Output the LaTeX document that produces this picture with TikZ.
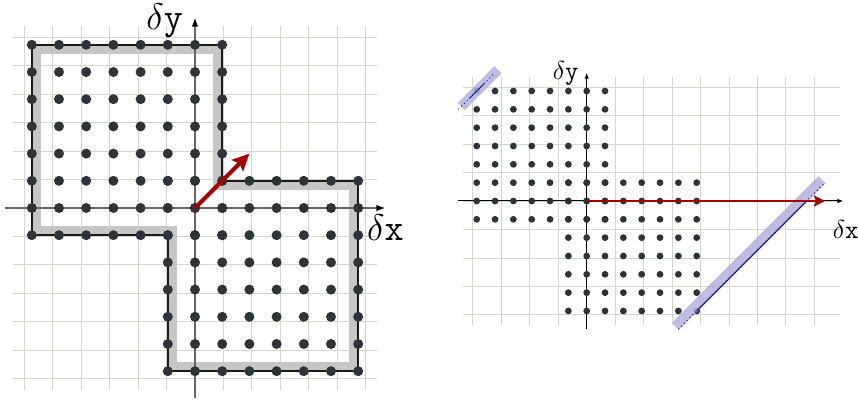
\RequirePackage{fix-cm}
\documentclass[tikz,border=0pt]{standalone}
\usetikzlibrary{arrows.meta}
\definecolor{dotc}{HTML}{2E3436}
\definecolor{gridc}{HTML}{D3D7CF}
\definecolor{redc}{HTML}{A40000}
\definecolor{bandgray}{RGB}{198,198,198}
\definecolor{bandc}{RGB}{178,178,220}
\definecolor{navyc}{RGB}{25,25,140}
\tikzset{
  biglab/.style={font=\fontsize{37}{38}\selectfont, inner sep=0pt},
  smalllab/.style={font=\fontsize{26}{27}\selectfont, inner sep=0pt},
  gridline/.style={gridc},
  dotfill/.style={fill=dotc},
}
\begin{document}
\begin{tikzpicture}[x=1pt,y=1pt]
\useasboundingbox (0,0) rectangle (858,401);
% ---------------- left diagram ----------------
\begin{scope}[shift={(195pt,193pt)}, x=27.2pt, y=27.2pt]
  \draw[gridline, line width=1pt] (-6.7,-6.7) grid (6.7,6.7);
  \draw[bandgray, line width=8pt, line join=miter]
    (-5.8,5.8) -- (0.8,5.8) -- (0.8,0.8) -- (5.8,0.8) -- (5.8,-5.8)
    -- (-0.8,-5.8) -- (-0.8,-0.8) -- (-5.8,-0.8) -- cycle;
  \coordinate (Lxa) at (-7,0); \coordinate (Lxb) at (7,0);
  \coordinate (Lya) at (0,-7); \coordinate (Lyb) at (0,7);
  \draw[black!60, line width=1.5pt, -{Latex[length=9pt,width=6.5pt,black]}] (Lxa) -- (Lxb);
  \draw[black!60, line width=1.5pt, -{Latex[length=9pt,width=6.5pt,black]}] (Lya) -- (Lyb);
  \draw[black!90, line width=2pt, line join=miter]
    (-6,6) -- (1,6) -- (1,1) -- (6,1) -- (6,-6) -- (-1,-6) -- (-1,-1) -- (-6,-1) -- cycle;
  \foreach \i in {-6,...,1} \foreach \j in {-1,...,6} \fill[dotfill] (\i,\j) circle[radius=5pt];
  \foreach \i in {-1,...,6} \foreach \j in {-6,...,1} \fill[dotfill] (\i,\j) circle[radius=5pt];
  \coordinate (Lo) at (0,0); \coordinate (Lr) at (2,2);
  \draw[redc, line width=4pt, -{Stealth[length=17pt,width=16pt,inset=3pt]}] (Lo) -- (Lr);
  \node[biglab, anchor=base east] (Lly) at (-0.44,6.58) {$\delta\mathtt{y}$};
  \node[biglab, anchor=north west] (Llx) at (6.32,-0.26) {$\delta\mathtt{x}$};
\end{scope}
% ---------------- right diagram ----------------
\begin{scope}[shift={(586.7pt,200pt)}, x=18.33pt, y=18.33pt]
  \draw[gridline, line width=0.8pt] (-6.75,-6.75) grid (13.8,6.75);
  \coordinate (Rxa) at (-7,0); \coordinate (Rxb) at (14,0);
  \coordinate (Rya) at (0,-7); \coordinate (Ryb) at (0,7);
  \draw[black, line width=1pt, -{Latex[length=6pt,width=4.5pt]}] (Rxa) -- (Rxb);
  \draw[black, line width=1pt, -{Latex[length=6pt,width=4.5pt]}] (Rya) -- (Ryb);
  \foreach \i in {-6,...,1} \foreach \j in {-1,...,6} \fill[dotfill] (\i,\j) circle[radius=3.4pt];
  \foreach \i in {-1,...,6} \foreach \j in {-6,...,1} \fill[dotfill] (\i,\j) circle[radius=3.4pt];
  % bands
  \draw[bandc, line width=10pt, opacity=0.85] (4.84,-6.84) -- (12.84,1.16);
  \draw[bandc, line width=10pt, opacity=0.85] (-6.84,5.16) -- (-4.84,7.16);
  \draw[navyc, line width=1pt, dash pattern=on 1pt off 3pt] (5,-7) -- (13,1);
  \draw[navyc, line width=1pt] (6,-6) -- (12,0);
  \draw[navyc, line width=1pt, dash pattern=on 1pt off 3pt] (-7,5) -- (-5,7);
  \draw[navyc, line width=1pt] (-6.4,5.6) -- (-5.6,6.4);
  \coordinate (Ro) at (0,0); \coordinate (Rr) at (13,0);
  \draw[redc, line width=2.7pt, -{Stealth[length=11pt,width=11pt,inset=2pt]}] (Ro) -- (Rr);
  \node[smalllab, anchor=base east] (Rly) at (-0.44,6.65) {$\delta\mathtt{y}$};
  \node[smalllab, anchor=north west] (Rlx) at (13.42,-1.04) {$\delta\mathtt{x}$};
\end{scope}
\end{tikzpicture}
\end{document}
